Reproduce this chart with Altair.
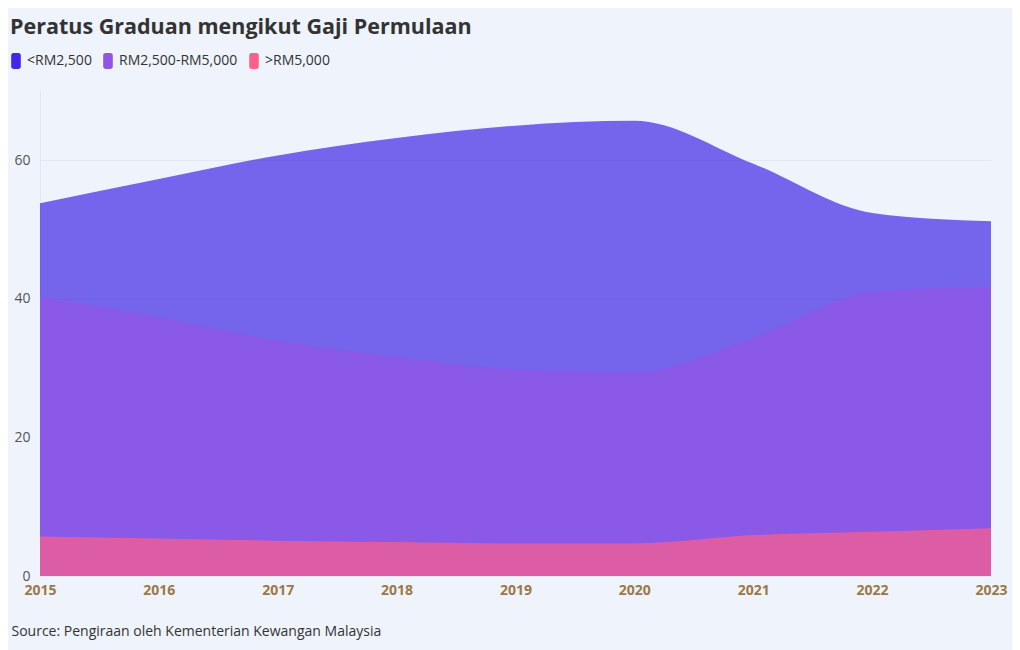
import altair as alt
import pandas as pd

years = [2015, 2016, 2017, 2018, 2019, 2020, 2021, 2022, 2023]
below_2500 = [53.8, 57.3, 60.7, 63.2, 65.0, 65.7, 59.5, 52.4, 51.2]
mid_2500_5000 = [40.4, 37.3, 34.0, 31.6, 29.8, 29.4, 34.4, 41.0, 41.8]
above_5000 = [5.7, 5.4, 5.1, 4.9, 4.7, 4.7, 5.9, 6.4, 6.9]

series_names = ["<RM2,500", "RM2,500-RM5,000", ">RM5,000"]
series_values = [below_2500, mid_2500_5000, above_5000]
series_colors = ["#4128E7", "#9354E6", "#FF6089"]

y_ticks = [0, 20, 40, 60]

rows = []
for name, vals in zip(series_names, series_values):
    for yr, v in zip(years, vals):
        rows.append({"Tahun": yr, "Kategori": name, "Peratus": v})
df = pd.DataFrame(rows)

FONT = "Open Sans"
BG = "#EEF3FC"

color_scale = alt.Scale(domain=series_names, range=series_colors)

symbol_path = ("M-0.3,-1 L0.3,-1 Q0.6,-1 0.6,-0.7 L0.6,0.7 Q0.6,1 0.3,1 "
               "L-0.3,1 Q-0.6,1 -0.6,0.7 L-0.6,-0.7 Q-0.6,-1 -0.3,-1 Z")

def layer_for(name):
    return alt.Chart(df).transform_filter(
        alt.datum.Kategori == name
    ).mark_area(interpolate="monotone", opacity=0.7).encode(
        x=alt.X("Tahun:Q",
                scale=alt.Scale(domain=[years[0], years[-1]], nice=False, zero=False),
                axis=alt.Axis(values=years, format="d", title="Source: Pengiraan oleh Kementerian Kewangan Malaysia",
                              titleAnchor="start", titleX=-29, titleY=48, titleFont=FONT,
                              titleFontSize=14, titleFontWeight="normal", titleColor="#333333",
                              labelFont=FONT, labelFontSize=14, labelFontWeight="bold",
                              labelColor="#9C7846", labelPadding=7, ticks=False, domain=False,
                              grid=False, labelFlush=False)),
        y=alt.Y("Peratus:Q", stack=None,
                scale=alt.Scale(domain=[0, 70], nice=False),
                axis=alt.Axis(values=y_ticks, title=None, labelFont=FONT, labelFontSize=14,
                              labelColor="#555555", labelPadding=10, ticks=False,
                              domain=True, domainColor="#E2E8F2", gridColor="#E2E8F2")),
        color=alt.Color("Kategori:N", scale=color_scale,
                        legend=alt.Legend(title=None, orient="none", legendX=-32, legendY=-38,
                                          direction="horizontal", symbolType=symbol_path,
                                          symbolSize=256, symbolOpacity=1, symbolStrokeWidth=0,
                                          labelFont=FONT, labelFontSize=14, labelColor="#333333",
                                          labelOffset=3, columnPadding=8)),
    )

chart = alt.layer(*[layer_for(n) for n in series_names]).properties(
    width=951,
    height=485,
    background=BG,
    padding={"left": 32, "top": 83, "right": 21, "bottom": 74},
    autosize=alt.AutoSizeParams(type="none"),
    title=alt.TitleParams("Peratus Graduan mengikut Gaji Permulaan", anchor="start",
                          font=FONT, fontSize=21.5, fontWeight="bold", color="#333333",
                          dx=2, offset=15),
).configure_view(stroke=None)

chart.save("out.html", embed_options={"renderer": "svg", "actions": False})
